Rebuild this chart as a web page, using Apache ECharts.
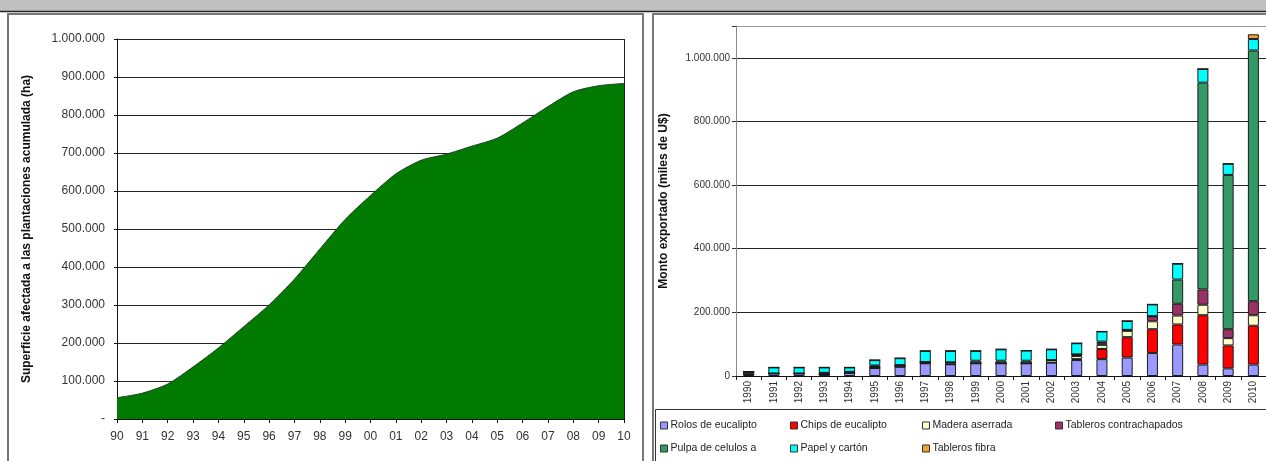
<!DOCTYPE html>
<html>
<head>
<meta charset="utf-8">
<script src="https://cdn.jsdelivr.net/npm/echarts@6/dist/echarts.min.js"></script>
<style>
  html, body { margin: 0; padding: 0; background: #fff; }
  #main { width: 1266px; height: 461px; }
</style>
</head>
<body>
<div id="main"></div>
<script>
// superficie plantada acumulada (ha), 1990-2010
var yearsShort = ['90','91','92','93','94','95','96','97','98','99','00','01','02','03','04','05','06','07','08','09','10'];
var superficie = [56000, 68000, 92000, 137000, 187000, 243000, 300000, 368000, 447000, 525000, 588000,
  645000, 681000, 697000, 718000, 739000, 779000, 822000, 861000, 877000, 883000];

// exportaciones (miles de U$)
var years = ['1990','1991','1992','1993','1994','1995','1996','1997','1998','1999','2000',
  '2001','2002','2003','2004','2005','2006','2007','2008','2009','2010'];
var rolos    = [5000, 8000, 8000, 5000, 10000, 25000, 29000, 40000, 37000, 40000, 40000, 40000, 42000, 50000, 53000, 58000, 72000, 99000, 36000, 24000, 36000];
var chips    = [0, 0, 0, 0, 0, 0, 0, 0, 0, 0, 0, 0, 0, 3000, 32000, 64000, 75000, 63000, 155000, 72000, 122000];
var madera   = [0, 0, 0, 0, 0, 5000, 5000, 4000, 6000, 0, 0, 0, 8000, 10000, 13000, 20000, 25000, 28000, 33000, 23000, 33000];
var contra   = [8000, 0, 0, 5000, 3000, 0, 0, 0, 0, 0, 0, 0, 0, 5000, 5000, 3000, 16000, 37000, 48000, 28000, 44000];
var pulpa    = [0, 0, 0, 0, 0, 3000, 0, 0, 0, 8000, 8000, 8000, 0, 0, 5000, 0, 0, 76000, 650000, 485000, 788000];
var papel    = [0, 19000, 19000, 17000, 14000, 17000, 22000, 35000, 36000, 31000, 36000, 32000, 34000, 35000, 32000, 28000, 37000, 50000, 43000, 35000, 36000];
var fibra    = [0, 0, 0, 0, 0, 0, 0, 0, 0, 0, 0, 0, 0, 0, 0, 0, 0, 0, 0, 0, 15000];

var exportNames = ['Rolos de eucalipto', 'Chips de eucalipto', 'Madera aserrada', 'Tableros contrachapados',
  'Pulpa de celulos a', 'Papel y cartón', 'Tableros fibra'];
var exportData = [rolos, chips, madera, contra, pulpa, papel, fibra];
var exportColors = ['#9999ff', '#ff0000', '#ffffcc', '#993366', '#339966', '#00ffff', '#f0a030'];

function miles(v) {
  return String(v).replace(/\B(?=(\d{3})+(?!\d))/g, '.');
}

var font = 'Liberation Sans, Arial, sans-serif';

var barSeries = exportNames.map(function(name, i) {
  return {
    name: name,
    type: 'bar',
    stack: 'exp',
    xAxisIndex: 1,
    yAxisIndex: 1,
    barWidth: 11,
    data: exportData[i],
    itemStyle: { color: exportColors[i], borderColor: '#1a1a1a', borderWidth: 1 }
  };
});

// one legend per item so they sit in the same columns as the original
var legendPos = [[660, 420], [790, 420], [922, 420], [1055, 420], [660, 443], [790, 443], [922, 443]];
var legends = exportNames.map(function(name, i) {
  return {
    left: legendPos[i][0],
    top: legendPos[i][1],
    data: [name],
    icon: 'rect',
    itemWidth: 7,
    itemHeight: 7,
    itemGap: 0,
    padding: 0,
    selectedMode: false,
    itemStyle: { borderColor: '#333', borderWidth: 1 },
    textStyle: { fontFamily: font, fontSize: 10.5, color: '#222', padding: [0, 0, 0, -2] }
  };
});

var option = {
  backgroundColor: '#fff',
  animation: false,
  legend: legends,
  graphic: [
    { type: 'rect', shape: { x: 0, y: 0, width: 1266, height: 11 }, style: { fill: '#c0c0c0' } },
    { type: 'line', shape: { x1: 0, y1: 11.5, x2: 1266, y2: 11.5 }, style: { stroke: '#222', lineWidth: 1.5 } },
    { type: 'rect', shape: { x: 8, y: 14, width: 635, height: 460 }, style: { fill: 'none', stroke: '#777', lineWidth: 2 } },
    { type: 'rect', shape: { x: 653, y: 14, width: 620, height: 460 }, style: { fill: 'none', stroke: '#777', lineWidth: 2 } },
    { type: 'line', shape: { x1: 624.5, y1: 39, x2: 624.5, y2: 419 }, style: { stroke: '#222', lineWidth: 1 } },
    { type: 'rect', shape: { x: 655.5, y: 409.5, width: 620, height: 60 }, style: { fill: 'none', stroke: '#333', lineWidth: 1 } }
  ],
  grid: [
    { left: 117, top: 39, width: 507, height: 380 },
    { left: 736, top: 26, width: 536, height: 350 }
  ],
  xAxis: [
    {
      gridIndex: 0,
      type: 'category',
      data: yearsShort,
      boundaryGap: false,
      axisLine: { lineStyle: { color: '#111' } },
      axisTick: { show: true, length: 4, lineStyle: { color: '#111' } },
      axisLabel: { margin: 12, fontFamily: font, fontSize: 12, color: '#333' }
    },
    {
      gridIndex: 1,
      type: 'category',
      data: years,
      axisLine: { lineStyle: { color: '#111' } },
      axisTick: { show: true, length: 4, lineStyle: { color: '#111' } },
      axisLabel: { rotate: 90, margin: 5, fontFamily: font, fontSize: 10, color: '#333' }
    }
  ],
  yAxis: [
    {
      gridIndex: 0,
      type: 'value',
      min: 0,
      max: 1000000,
      interval: 100000,
      name: 'Superficie afectada a las plantaciones acumulada (ha)',
      nameLocation: 'middle',
      nameGap: 84,
      nameTextStyle: { fontFamily: font, fontSize: 12, fontWeight: 'bold', color: '#111' },
      axisLine: { show: true, lineStyle: { color: '#111' } },
      axisTick: { show: true, length: 3, lineStyle: { color: '#111' } },
      axisLabel: {
        margin: 12, fontFamily: font, fontSize: 12, color: '#333',
        formatter: function(v) { return v === 0 ? '-' : miles(v); }
      },
      splitLine: { lineStyle: { color: '#222', width: 1 } }
    },
    {
      gridIndex: 1,
      type: 'value',
      min: 0,
      max: 1100000,
      interval: 200000,
      name: 'Monto exportado (miles de U$)',
      nameLocation: 'middle',
      nameGap: 66,
      nameTextStyle: { fontFamily: font, fontSize: 12, fontWeight: 'bold', color: '#111' },
      axisLine: { show: true, lineStyle: { color: '#888' } },
      axisTick: { show: true, length: 4, lineStyle: { color: '#333' } },
      axisLabel: {
        margin: 6, fontFamily: font, fontSize: 10, color: '#333',
        formatter: function(v) { return v > 1000000 ? '' : miles(v); }
      },
      splitLine: { lineStyle: { color: ['#222', '#222', '#222', '#222', '#222', '#222', '#999'], width: 1 } }
    }
  ],
  series: [
    {
      name: 'Superficie',
      type: 'line',
      xAxisIndex: 0,
      yAxisIndex: 0,
      smooth: 0.25,
      symbol: 'none',
      data: superficie,
      lineStyle: { color: '#1d3d1d', width: 1 },
      areaStyle: { color: '#007a00', opacity: 1 }
    }
  ].concat(barSeries)
};

var chart = echarts.init(document.getElementById('main'), null, { renderer: 'canvas' });
chart.setOption(option);
</script>
</body>
</html>
